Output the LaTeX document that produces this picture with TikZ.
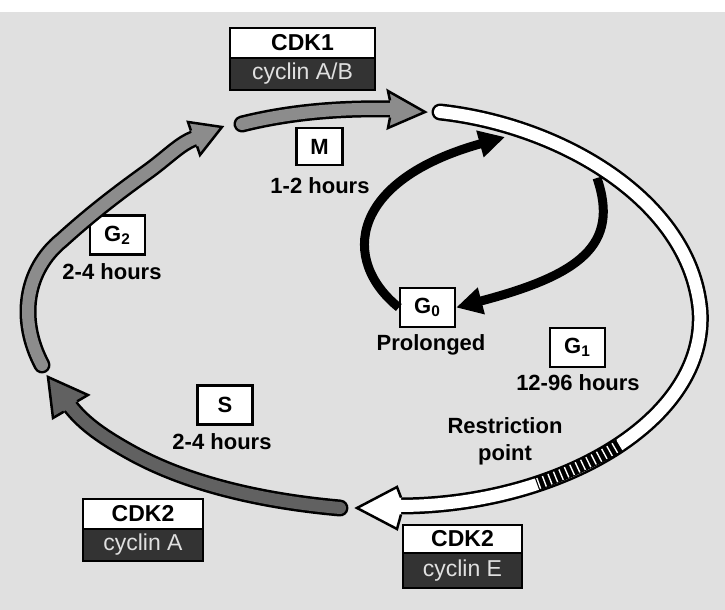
\documentclass[tikz,border=0pt]{standalone}
\usepackage{fontspec}
\setmainfont{Liberation Sans}
\usetikzlibrary{positioning,arrows.meta,decorations.pathreplacing}

\begin{document}
\begin{tikzpicture}[x=0.5pt,y=-0.5pt]
    \tikzset{phase/.style={draw, fill=white, line width=1.2pt, minimum width=27.5pt,
                minimum height=19.5pt, inner sep=0pt, font=\fontsize{11}{13}\selectfont\bfseries},
             timing/.style={inner sep=0pt, align=center, font=\fontsize{11}{13.5}\selectfont\bfseries},
             kinase/.style={draw, fill=white, line width=1.2pt, outer sep=0pt, inner sep=0pt,
                minimum height=15pt, font=\fontsize{11.5}{13}\selectfont\bfseries},
             cyclin/.style={draw, fill=black!80, text=black!12, line width=1.2pt, outer sep=0pt,
                inner sep=0pt, minimum height=16pt, font=\fontsize{11.5}{13}\selectfont},
             band/.style={line width=1.25pt, double distance=6pt, line cap=round},
             tipbox/.style={line width=1.25pt, line join=miter},
             gzarrow/.style={line width=4.5pt, -{Triangle[length=13pt,width=13pt]}}}
    \useasboundingbox (0,0) rectangle (725,610);
    \fill[black!12] (0,12) rectangle (725,610);

    % cyclin-CDK complexes
    \node[kinase, minimum width=72.5pt] (cdkone) at (302.5,43) {CDK1};
    \node[cyclin, minimum width=72.5pt, below=0pt of cdkone] (cycab) {cyclin A/B};
    \node[kinase, minimum width=60pt] (cdktwoa) at (143,514) {CDK2};
    \node[cyclin, minimum width=60pt, below=0pt of cdktwoa] (cyca) {cyclin A};
    \node[kinase, minimum width=59.5pt, minimum height=14pt] (cdktwoe) at (462.5,539) {CDK2};
    \node[cyclin, minimum width=59.5pt, minimum height=17.5pt, below=0pt of cdktwoe] (cyce) {cyclin E};

    % phases
    \node[phase, minimum width=23pt, minimum height=18.5pt] (m) at (319.5,146.5) {M};
    \node[timing] (mtime) at (320,186) {1-2 hours};
    \node[phase] (gtwo) at (117.5,235) {G\textsubscript{2}};
    \node[timing] (gtwotime) at (112,272) {2-4 hours};
    \node[phase] (gzero) at (427.5,307.5) {G\textsubscript{0}};
    \node[timing] (gzerotime) at (431,345) {Prolonged};
    \node[phase] (gone) at (577.5,347.5) {G\textsubscript{1}};
    \node[timing] (gonetime) at (578,383) {12-96 hours};
    \node[phase] (s) at (225,405) {S};
    \node[timing] (stime) at (222,442) {2-4 hours};
    \node[timing] (rpoint) at (505,441) {Restriction\\point};

    % G0 loop
    \coordinate (reentry) at (505,137);
    \coordinate (exit) at (597,178);
    \draw[gzarrow] (gzero.west) .. controls (340,260) and (350,180) .. (reentry);
    \draw[gzarrow] (exit) .. controls (620,245) and (580,275) .. (gzero.east);

    % G1
    \draw[band, double=white] (440,112) .. controls (560,125) and (690,200) .. (700,310)
        .. controls (708,420) and (560,505) .. (401,506);
    \filldraw[tipbox, fill=white] (401,497.5) -- (397,487) -- (357,508) -- (397,529) -- (401,514.5);
    \draw[line width=6.6pt] (620,445) .. controls (595,460) and (565,474) .. (537,484);
    \draw[white, line width=0.7pt, decorate, decoration={ticks, segment length=3pt, amplitude=2.8pt}]
        (620,445) .. controls (595,460) and (565,474) .. (537,484);

    % S
    \draw[band, double=black!62] (340,508) .. controls (250,500) and (180,480) .. (130,452)
        .. controls (105,438) and (85,425) .. (70.5,406.5);
    \filldraw[tipbox, fill=black!62] (77.2,401.3) -- (88,395) -- (48,377) -- (53,418) -- (63.8,411.7);

    % G2
    \draw[band, double=black!45] (42,365) .. controls (18,320) and (25,270) .. (62,240)
        .. controls (95,210) and (125,188) .. (150,170) .. controls (170,155) and (180,144) .. (194,138.5);
    \filldraw[tipbox, fill=black!45] (190.9,130.6) -- (188,122) -- (222,127) -- (200,155) -- (197.1,146.4);

    % M
    \draw[band, double=black!45] (242,124) .. controls (290,112) and (340,108) .. (390,109);
    \filldraw[tipbox, fill=black!45] (390,100.5) -- (388,91) -- (425,112) -- (388,128) -- (390,117.5);
\end{tikzpicture}
\end{document}
